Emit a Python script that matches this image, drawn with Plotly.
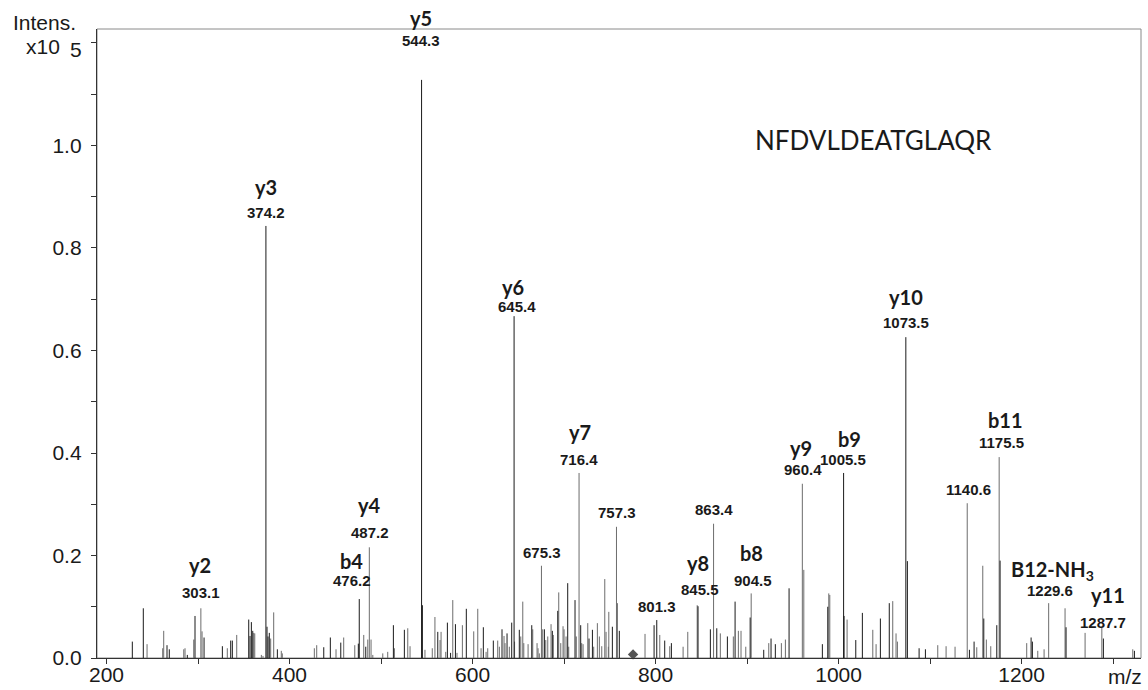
import plotly.graph_objects as go

# ---- data (m/z, intensity x10^5) ----
dark_mz = [228.2, 240.2, 266.1, 268.6, 288.3, 296.7, 306.6, 326.6, 335.7, 337.5,
           355.4, 356.8, 358.3, 359.8, 374.2, 375.4, 376.5, 377.9, 386.7, 437.4,
           444.6, 456.0, 475.2, 476.2, 483.3, 513.5, 525.5, 544.3, 545.2, 562.0,
           572.5, 576.0, 581.3, 593.2, 611.8, 622.7, 632.2, 637.7, 642.8, 645.4,
           651.1, 664.7, 678.5, 687.2, 693.1, 704.0, 712.0, 718.2, 727.3, 731.0,
           752.8, 760.4, 798.4, 801.3, 810.0, 817.3, 846.4, 859.9, 866.9, 878.5,
           886.9, 903.4, 918.2, 926.2, 930.9, 945.9, 982.3, 988.2, 1005.5, 1006.0,
           1018.8, 1026.0, 1045.7, 1055.4, 1073.5, 1075.2, 1088.0, 1094.9, 1143.0, 1148.1,
           1158.7, 1172.9, 1176.5, 1210.4, 1211.8, 1248.6, 1289.4, 1323.3]
dark_int = [0.032, 0.097, 0.025, 0.017, 0.006, 0.082, 0.040, 0.023, 0.034, 0.034,
            0.075, 0.043, 0.070, 0.053, 0.843, 0.061, 0.042, 0.049, 0.017, 0.021,
            0.040, 0.030, 0.028, 0.115, 0.022, 0.064, 0.055, 1.128, 0.103, 0.051,
            0.069, 0.010, 0.066, 0.096, 0.060, 0.034, 0.056, 0.048, 0.069, 0.667,
            0.055, 0.064, 0.056, 0.053, 0.092, 0.146, 0.113, 0.064, 0.038, 0.055,
            0.061, 0.053, 0.064, 0.074, 0.034, 0.029, 0.101, 0.056, 0.058, 0.042,
            0.110, 0.079, 0.016, 0.038, 0.027, 0.136, 0.027, 0.100, 0.361, 0.082,
            0.035, 0.088, 0.077, 0.107, 0.626, 0.189, 0.019, 0.017, 0.016, 0.032,
            0.077, 0.064, 0.190, 0.040, 0.032, 0.060, 0.038, 0.014]

gray_mz = [244.3, 261.4, 262.5, 284.4, 285.8, 295.3, 303.1, 304.4, 332.0, 342.3,
           360.9, 362.0, 369.2, 371.0, 379.4, 382.7, 391.0, 392.1, 427.1, 429.7,
           450.8, 459.2, 471.3, 481.1, 485.5, 487.2, 489.1, 491.0, 501.9, 507.3,
           514.6, 529.2, 531.7, 548.0, 556.0, 558.9, 564.5, 565.6, 570.7, 578.4,
           583.0, 588.9, 601.3, 605.7, 609.3, 614.8, 616.6, 627.5, 629.3, 634.4,
           635.5, 640.2, 645.9, 652.7, 654.9, 656.0, 660.7, 665.8, 670.5, 671.6,
           673.0, 675.3, 676.7, 680.0, 682.2, 685.8, 688.3, 694.2, 696.4, 698.9,
           700.0, 702.2, 705.1, 713.4, 716.4, 719.3, 720.8, 725.9, 732.4, 736.4,
           738.6, 741.2, 744.5, 745.9, 748.4, 748.9, 757.3, 758.3, 788.5, 804.6,
           815.5, 830.1, 835.2, 845.5, 863.4, 870.8, 885.0, 890.5, 893.4, 898.6,
           904.5, 923.7, 937.5, 941.9, 960.4, 962.0, 989.3, 990.4, 1009.3, 1037.4,
           1041.0, 1059.2, 1062.8, 1064.3, 1108.4, 1117.5, 1127.3, 1140.6, 1151.0, 1157.6,
           1161.5, 1166.3, 1175.5, 1205.6, 1217.7, 1224.6, 1229.6, 1247.5, 1269.4, 1287.7,
           1321.5]
gray_int = [0.027, 0.019, 0.053, 0.017, 0.019, 0.036, 0.097, 0.052, 0.019, 0.045,
            0.049, 0.048, 0.006, 0.004, 0.038, 0.089, 0.014, 0.009, 0.019, 0.025,
            0.017, 0.040, 0.025, 0.045, 0.036, 0.216, 0.036, 0.006, 0.009, 0.012,
            0.019, 0.058, 0.023, 0.016, 0.019, 0.080, 0.035, 0.051, 0.012, 0.113,
            0.010, 0.064, 0.052, 0.096, 0.019, 0.012, 0.019, 0.034, 0.022, 0.043,
            0.029, 0.022, 0.032, 0.042, 0.110, 0.029, 0.027, 0.056, 0.029, 0.019,
            0.009, 0.180, 0.056, 0.035, 0.042, 0.066, 0.045, 0.128, 0.029, 0.062,
            0.056, 0.042, 0.022, 0.042, 0.361, 0.029, 0.027, 0.068, 0.022, 0.068,
            0.042, 0.023, 0.154, 0.051, 0.022, 0.090, 0.256, 0.107, 0.047, 0.045,
            0.023, 0.022, 0.051, 0.103, 0.262, 0.048, 0.042, 0.053, 0.053, 0.022,
            0.126, 0.029, 0.029, 0.036, 0.340, 0.172, 0.126, 0.123, 0.075, 0.055,
            0.027, 0.111, 0.048, 0.032, 0.025, 0.023, 0.022, 0.302, 0.021, 0.180,
            0.036, 0.023, 0.392, 0.029, 0.014, 0.017, 0.107, 0.097, 0.049, 0.060,
            0.017]

marker_mz = [775.4]
marker_int = [0.007]

x_tick_vals = [200, 400, 600, 800, 1000, 1200]
y_tick_vals = [0.0, 0.2, 0.4, 0.6, 0.8, 1.0, 1.2]
y_tick_text = ["0.0", "0.2", "0.4", "0.6", "0.8", "1.0", " "]

# labels: (ion label, ion x, ion y, mass label, mass x, mass y)
ion_labels = [
    ("y3", 374.3, 0.919, "374.2", 374.3, 0.870),
    ("y6", 644.3, 0.724, "645.4", 648.6, 0.685),
    ("y10", 1073.8, 0.704, "1073.5", 1073.8, 0.654),
    ("y7", 717.5, 0.441, "716.4", 716.4, 0.388),
    ("", 0, 0, "757.3", 757.9, 0.283),
    ("", 0, 0, "675.3", 676.0, 0.205),
    ("", 0, 0, "801.3", 801.6, 0.101),
    ("y9", 959.0, 0.410, "960.4", 961.2, 0.367),
    ("b9", 1011.5, 0.427, "1005.5", 1005.0, 0.388),
    ("", 0, 0, "863.4", 864.0, 0.289),
    ("b8", 904.4, 0.205, "904.5", 906.6, 0.152),
    ("y8", 846.4, 0.185, "845.5", 848.6, 0.133),
    ("b11", 1182.0, 0.464, "1175.5", 1177.6, 0.420),
    ("", 0, 0, "1140.6", 1141.5, 0.328),
    ("B12-NH<sub>3</sub>", 1233.5, 0.170, "1229.6", 1231.1, 0.131),
    ("y11", 1294.0, 0.123, "1287.7", 1289.1, 0.070),
    ("y4", 486.9, 0.2985, "487.2", 488.0, 0.244),
    ("b4", 467.2, 0.189, "476.2", 468.3, 0.152),
    ("y2", 302.2, 0.181, "303.1", 303.3, 0.127),
]


def stems(mz, h):
    xs, ys = [], []
    for m, v in zip(mz, h):
        xs += [m, m, None]
        ys += [0, v, None]
    return xs, ys


fig = go.Figure()
gx, gy = stems(gray_mz, gray_int)
dx, dy = stems(dark_mz, dark_int)
fig.add_trace(go.Scatter(x=gx, y=gy, mode="lines", line=dict(color="#6c6c6c", width=1),
                         hoverinfo="skip", showlegend=False))
fig.add_trace(go.Scatter(x=dx, y=dy, mode="lines", line=dict(color="#1a1a1a", width=1),
                         hoverinfo="skip", showlegend=False))
fig.add_trace(go.Scatter(x=marker_mz, y=marker_int, mode="markers",
                         marker=dict(symbol="diamond", size=8, color="#555555"),
                         hoverinfo="skip", showlegend=False, cliponaxis=False))

# plot area geometry in pixels (for paper-referenced text)
L, R, T, B = 97, 1141, 29, 658


def px(xp):
    return (xp - L) / (R - L)


def py(yp):
    return (B - yp) / (B - T)


ann = []
ION_FONT = dict(family="Lato, 'Open Sans', sans-serif", size=20, color="#1a1a1a", weight="bold")
MASS_FONT = dict(family="'Liberation Sans', Arial, sans-serif", size=15, color="#1a1a1a", weight="bold")
for ion, ix, iy, mass, mx, my in ion_labels:
    if ion:
        ann.append(dict(x=ix, y=iy, xref="x", yref="y", text=ion, showarrow=False,
                        font=ION_FONT, xanchor="center", yanchor="middle"))
    ann.append(dict(x=mx, y=my, xref="x", yref="y", text=mass, showarrow=False,
                    font=MASS_FONT, xanchor="center", yanchor="middle"))

# y5 labels sit above the plot top -> paper coordinates
ann.append(dict(x=px(421), y=py(18), xref="paper", yref="paper", text="y5", showarrow=False,
                font=ION_FONT, xanchor="center", yanchor="middle"))
ann.append(dict(x=px(421), y=py(40), xref="paper", yref="paper", text="544.3", showarrow=False,
                font=MASS_FONT, xanchor="center", yanchor="middle"))

AX_FONT = dict(family="'Liberation Sans', Arial, sans-serif", size=21, color="#1a1a1a")
TICK_FONT = dict(family="'Liberation Sans', Arial, sans-serif", size=21, color="#1a1a1a")
ann.append(dict(x=px(873), y=py(140), xref="paper", yref="paper", text="NFDVLDEATGLAQR",
                showarrow=False, xanchor="center", yanchor="middle",
                font=dict(family="Lato, 'Open Sans', sans-serif", size=26, color="#1a1a1a")))
ann.append(dict(x=px(44), y=py(22), xref="paper", yref="paper", text="Intens.", showarrow=False,
                font=AX_FONT, xanchor="center", yanchor="middle"))
ann.append(dict(x=px(62), y=py(47), xref="paper", yref="paper", text="x10", showarrow=False,
                font=AX_FONT, xanchor="right", yanchor="middle"))
ann.append(dict(x=px(76), y=py(50), xref="paper", yref="paper", text="5", showarrow=False,
                font=AX_FONT, xanchor="center", yanchor="middle"))
ann.append(dict(x=px(1125), y=py(676), xref="paper", yref="paper", text="m/z", showarrow=False,
                font=AX_FONT, xanchor="center", yanchor="middle"))

fig.update_layout(
    width=1148, height=690,
    margin=dict(l=L, r=1148 - R, t=T, b=690 - B),
    plot_bgcolor="white", paper_bgcolor="white",
    annotations=ann,
    shapes=[dict(type="rect", xref="paper", yref="paper", x0=0, x1=1, y0=0, y1=1,
                 line=dict(color="#8a8a8a", width=1), layer="below")],
    xaxis=dict(range=[189.6, 1330.5], tickvals=x_tick_vals, ticks="outside", ticklen=5,
               tickcolor="#333", showline=True, linecolor="#333", linewidth=1.3,
               showgrid=False, zeroline=False, tickfont=TICK_FONT, automargin=False,
               ticklabelstandoff=-7,
               minor=dict(dtick=100, tick0=0, ticks="outside", ticklen=5, tickcolor="#333")),
    yaxis=dict(range=[0, 1.2273], tickvals=y_tick_vals, ticktext=y_tick_text, ticks="outside",
               ticklen=5, tickcolor="#333", showline=True, linecolor="#333", linewidth=1.3,
               showgrid=False, zeroline=False, tickfont=TICK_FONT, ticklabelstandoff=5,
               automargin=False,
               minor=dict(dtick=0.1, tick0=0, ticks="outside", ticklen=5, tickcolor="#333")),
)

fig.write_html("out.html", config={"displayModeBar": False},
               post_script="document.body.style.margin='0';document.body.style.overflow='hidden';")
